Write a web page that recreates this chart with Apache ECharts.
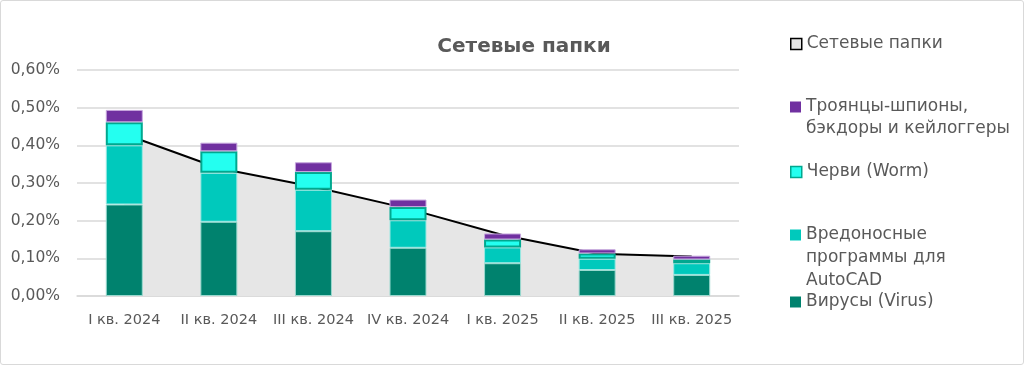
<!DOCTYPE html>
<html>
<head>
<meta charset="utf-8">
<script src="https://cdn.jsdelivr.net/npm/echarts@6/dist/echarts.min.js"></script>
<style>
html,body{margin:0;padding:0;background:#fff;}
#wrap{width:1024px;height:365px;box-sizing:border-box;border:1px solid #d9d9d9;border-radius:3px;}
#chart{width:1022px;height:363px;}
</style>
</head>
<body>
<div id="wrap"><div id="chart"></div></div>
<script>
const categories = ['I кв. 2024','II кв. 2024','III кв. 2024','IV кв. 2024','I кв. 2025','II кв. 2025','III кв. 2025'];
const virus   = [0.243, 0.197, 0.172, 0.128, 0.087, 0.069, 0.056];
const autocad = [0.157, 0.130, 0.110, 0.073, 0.042, 0.030, 0.031];
const worm    = [0.061, 0.057, 0.047, 0.035, 0.021, 0.014, 0.010];
const trojan  = [0.033, 0.023, 0.026, 0.020, 0.016, 0.011, 0.010];
const network = [0.430, 0.339, 0.290, 0.232, 0.162, 0.112, 0.105];

const names = {
  net: 'Сетевые папки',
  trojan: 'Троянцы-шпионы,\nбэкдоры и кейлоггеры',
  worm: 'Черви (Worm)',
  autocad: 'Вредоносные\nпрограммы для\nAutoCAD',
  virus: 'Вирусы (Virus)'
};
const WIDE = 'DejaVu Sans';
const GREY = '#595959';
const chart = echarts.init(document.getElementById('chart'));

function leg(name, top, style, extraLines, lh){
  return {
    show: true, orient: 'vertical', left: 789, top: top, padding: 0,
    itemWidth: 11, itemHeight: 11, itemGap: 0, icon: 'rect',
    data: [{name: name, itemStyle: style}],
    formatter: n => '\n'.repeat(extraLines || 0) + n,
    textStyle: {fontFamily: WIDE, fontSize: 17, color: GREY, lineHeight: lh || 22}
  };
}
const barBase = {type: 'bar', stack: 'total', barWidth: 37, z: 3};
chart.setOption({
  animation: false,
  title: {
    text: 'Сетевые папки', left: 518, top: 31, textAlign: 'center',
    textStyle: {fontFamily: WIDE, fontSize: 20, fontWeight: 'bold', color: GREY}
  },
  legend: [
    leg(names.net, 32, {color: '#e6e6e6', borderColor: '#000', borderWidth: 1.5}),
    leg(names.trojan, 73, {color: '#7030A0', borderWidth: 0}, 1),
    leg(names.worm, 160, {color: '#24FFF0', borderColor: '#00A88F', borderWidth: 1.5}),
    leg(names.autocad, 177, {color: '#00C9BC', borderWidth: 0}, 2, 22.8),
    leg(names.virus, 290, {color: '#00826E', borderWidth: 0})
  ],
  grid: {left: 76, right: 284, top: 69, bottom: 68},
  xAxis: {
    type: 'category', data: categories,
    axisLine: {show: true, lineStyle: {color: '#d9d9d9', width: 1.5}},
    axisTick: {show: false},
    axisLabel: {fontFamily: WIDE, fontSize: 14.5, color: GREY, margin: 17, interval: 0}
  },
  yAxis: {
    type: 'value', min: 0, max: 0.6, interval: 0.1,
    axisLine: {show: false}, axisTick: {show: false},
    splitLine: {lineStyle: {color: '#d9d9d9', width: 1.5}},
    axisLabel: {fontFamily: WIDE, fontSize: 15.5, color: GREY, margin: 17,
      formatter: v => v.toFixed(2).replace('.', ',') + '%'}
  },
  series: [
    {name: names.net, type: 'line', data: network, z: 1, symbol: 'none',
      lineStyle: {color: '#000', width: 2}, itemStyle: {color: '#e6e6e6'},
      areaStyle: {color: '#e6e6e6', opacity: 1}},
    Object.assign({}, barBase, {name: names.virus, data: virus,
      itemStyle: {color: '#00826E', borderColor: '#9ad9cf', borderWidth: 1}}),
    Object.assign({}, barBase, {name: names.autocad, data: autocad,
      itemStyle: {color: '#00C9BC', borderColor: '#9ae8e2', borderWidth: 1}}),
    Object.assign({}, barBase, {name: names.worm, data: worm,
      itemStyle: {color: '#24FFF0', borderColor: '#00A88F', borderWidth: 2}}),
    Object.assign({}, barBase, {name: names.trojan, data: trojan,
      itemStyle: {color: '#7030A0', borderColor: '#c6a6dd', borderWidth: 1}})
  ]
});
</script>
</body>
</html>
